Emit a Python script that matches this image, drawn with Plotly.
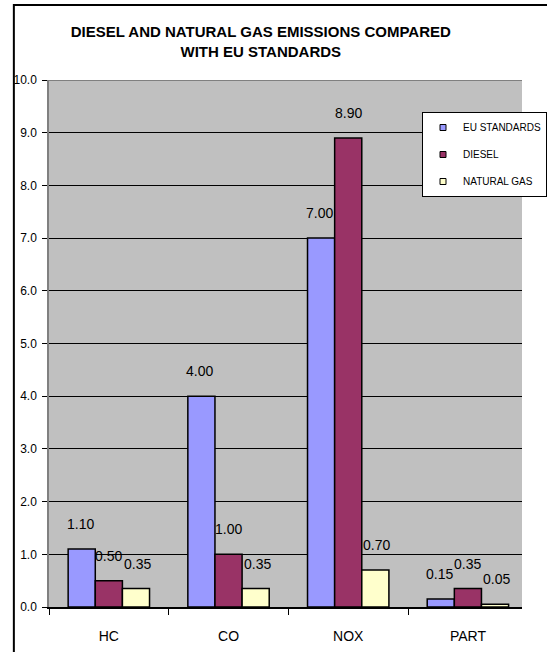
import plotly.graph_objects as go

# ---- data ----
categories = ["HC", "CO", "NOX", "PART"]
eu_standards = [1.10, 4.00, 7.00, 0.15]
diesel = [0.50, 1.00, 8.90, 0.35]
natural_gas = [0.35, 0.35, 0.70, 0.05]
series_names = ["EU STANDARDS", "DIESEL", "NATURAL GAS"]
y_tick_values = [0, 1, 2, 3, 4, 5, 6, 7, 8, 9, 10]
title_text = "DIESEL AND NATURAL GAS EMISSIONS COMPARED<br>WITH EU STANDARDS"

# ---- style ----
colors = ["#9999FF", "#993366", "#FFFFCC"]
NARROW = "Liberation Sans Narrow, Arial Narrow, Liberation Sans, Arial, sans-serif"
REG = "Liberation Sans, Arial, sans-serif"
W, H = 547, 652
ML, MR, MT, MB = 49, 0, 80, 45
x_range = [-0.5, 3.452]
bargap = 0.32
plot_w = W - ML - MR
plot_h = H - MT - MB

series = [eu_standards, diesel, natural_gas]

fig = go.Figure()
for name, vals, col in zip(series_names, series, colors):
    fig.add_trace(go.Bar(
        x=categories, y=vals, name=name,
        marker=dict(color=col, line=dict(color="black", width=1.5)),
        showlegend=False, hoverinfo="skip",
    ))
# legend entries (small square keys)
for k, (name, col) in enumerate(zip(series_names, colors)):
    fig.add_trace(go.Scatter(
        x=[None], y=[None], mode="markers", name=name,
        legendgroup=f"g{k}",
        marker=dict(symbol="square", size=6, color=col,
                    line=dict(color="black", width=1)),
    ))

# data labels above each bar
cat_px = plot_w / (x_range[1] - x_range[0])
bar_px = cat_px * (1 - bargap) / len(series)
annotations = []
for i, vals in enumerate(series):
    for cat, v in zip(categories, vals):
        annotations.append(dict(
            x=cat, y=v, xref="x", yref="y", text=f"{v:.2f}",
            showarrow=False, xshift=(i - 1) * bar_px, yshift=25,
            font=dict(family=NARROW, size=14, color="black"),
        ))

def px_x(p):
    return (p - ML) / plot_w

def px_y(p):
    return (H - MB - p) / plot_h

shapes = [
    # outer chart border
    dict(type="rect", xref="paper", yref="paper",
         x0=px_x(12), x1=1.2, y0=-0.3, y1=px_y(5),
         line=dict(color="black", width=2), fillcolor="rgba(0,0,0,0)"),
    # top border of plot area
    dict(type="line", xref="paper", yref="y", x0=0, x1=1, y0=10, y1=10,
         line=dict(color="#808080", width=2), layer="above"),
]

fig.update_layout(
    width=W, height=H,
    margin=dict(l=ML, r=MR, t=MT, b=MB, pad=0),
    paper_bgcolor="white", plot_bgcolor="#C0C0C0",
    barmode="group", bargap=bargap, bargroupgap=0,
    title=dict(text=title_text, x=px_x(272), xref="paper", xanchor="center",
               y=1 - 37 / H, yref="container", yanchor="top",
               font=dict(family=NARROW, size=15, color="black", weight="bold")),
    xaxis=dict(range=x_range, showgrid=False, showline=True, linecolor="black",
               linewidth=1.5, ticks="outside", tickson="boundaries", ticklen=6,
               tickcolor="black", ticklabelstandoff=15,
               tickfont=dict(family=NARROW, size=14, color="black"),
               zeroline=False, fixedrange=True),
    yaxis=dict(range=[0, 10], tickvals=y_tick_values, tickformat=".1f",
               showgrid=True, gridcolor="black", gridwidth=1,
               showline=True, linecolor="#808080", linewidth=1.5,
               ticks="outside", ticklen=5, tickcolor="black",
               ticklabelstandoff=3,
               tickfont=dict(family=REG, size=12, color="black"),
               zeroline=False, fixedrange=True),
    legend=dict(x=px_x(442), y=px_y(112), xanchor="left", yanchor="top",
                bgcolor="white", bordercolor="black", borderwidth=1,
                traceorder="grouped", tracegroupgap=8,
                font=dict(family=NARROW, size=10, color="black")),
    annotations=annotations, shapes=shapes,
)

fig.write_html("out.html")
